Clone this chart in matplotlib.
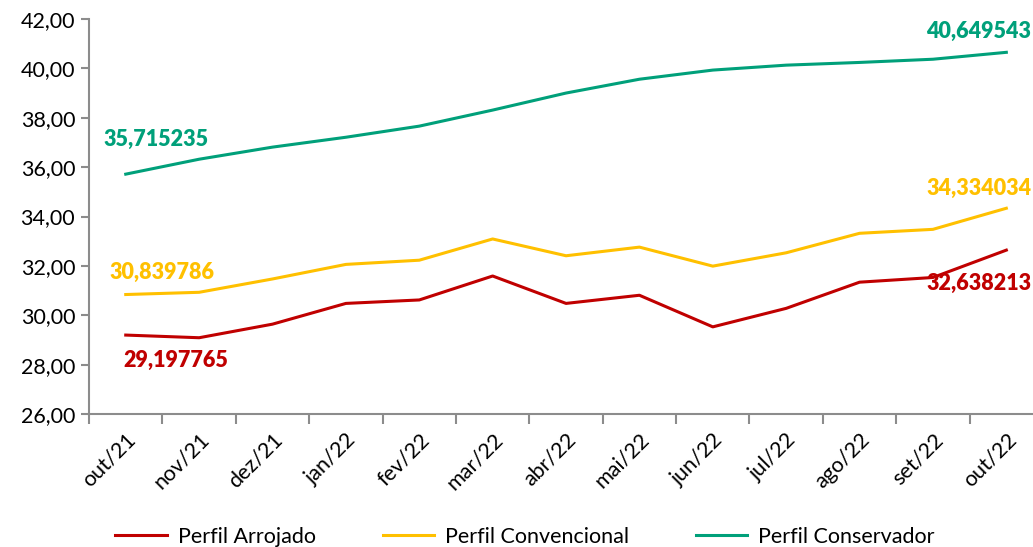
import numpy as np
import matplotlib
matplotlib.use("Agg")
import matplotlib.pyplot as plt
from matplotlib.ticker import FuncFormatter, FixedLocator

plt.rcParams['font.family'] = ['Lato', 'DejaVu Sans']

meses = ["out/21", "nov/21", "dez/21", "jan/22", "fev/22", "mar/22", "abr/22",
         "mai/22", "jun/22", "jul/22", "ago/22", "set/22", "out/22"]

arrojado = [29.197765, 29.09, 29.64, 30.48, 30.62, 31.59, 30.48,
            30.81, 29.53, 30.28, 31.34, 31.53, 32.638213]
convencional = [30.839786, 30.93, 31.47, 32.06, 32.23, 33.09, 32.41,
                32.76, 31.99, 32.53, 33.32, 33.48, 34.334034]
conservador = [35.715235, 36.32, 36.81, 37.21, 37.66, 38.31, 39.00,
               39.56, 39.93, 40.13, 40.24, 40.37, 40.649543]

vermelho = "#C00000"
amarelo = "#FFC000"
verde = "#00A07A"
cinza = "#8C8C8C"

fig = plt.figure(figsize=(10.33, 5.47), dpi=100)
ax = fig.add_axes([0.0862, 0.2431, 0.9235, 0.7222])

x = np.arange(len(meses))
ax.plot(x, arrojado, color=vermelho, lw=2.2, label="Perfil Arrojado")
ax.plot(x, convencional, color=amarelo, lw=2.2, label="Perfil Convencional")
ax.plot(x, conservador, color=verde, lw=2.2, label="Perfil Conservador")

ax.set_xlim(-0.5, len(meses) - 0.5)
ax.set_ylim(26, 42)
ax.set_yticks(np.arange(26, 43, 2))
ax.yaxis.set_major_formatter(FuncFormatter(lambda v, p: f"{v:.2f}".replace(".", ",")))

# rótulos no centro, marcas entre as categorias
ax.set_xticks(x)
ax.set_xticklabels(meses, rotation=45, ha="right", rotation_mode="anchor")
ax.xaxis.set_minor_locator(FixedLocator(np.arange(-0.5, len(meses), 1)))
ax.tick_params(axis="x", which="major", length=0, pad=11, labelsize=15.5)
ax.tick_params(axis="x", which="minor", length=7, width=1.5, color=cinza, direction="out")
ax.tick_params(axis="y", length=6, width=1.5, color=cinza, labelsize=15.5, pad=4)

for s in ["top", "right"]:
    ax.spines[s].set_visible(False)
for s in ["left", "bottom"]:
    ax.spines[s].set_color(cinza)
    ax.spines[s].set_linewidth(1.5)

# rótulos de dados (primeiro e último ponto)
fs = 15.5
ax.annotate(f"{conservador[0]:.6f}".replace(".", ","), (x[0], conservador[0]),
            xytext=(-16, 25), textcoords="offset points", ha="left", va="center",
            color=verde, fontsize=fs, fontweight="heavy")
ax.annotate(f"{conservador[-1]:.6f}".replace(".", ","), (x[-1], conservador[-1]),
            xytext=(18, 15), textcoords="offset points", ha="right", va="center",
            color=verde, fontsize=fs, fontweight="heavy")
ax.annotate(f"{convencional[0]:.6f}".replace(".", ","), (x[0], convencional[0]),
            xytext=(-12, 16), textcoords="offset points", ha="left", va="center",
            color=amarelo, fontsize=fs, fontweight="heavy")
ax.annotate(f"{convencional[-1]:.6f}".replace(".", ","), (x[-1], convencional[-1]),
            xytext=(18, 14), textcoords="offset points", ha="right", va="center",
            color=amarelo, fontsize=fs, fontweight="heavy")
ax.annotate(f"{arrojado[0]:.6f}".replace(".", ","), (x[0], arrojado[0]),
            xytext=(-2, -18), textcoords="offset points", ha="left", va="center",
            color=vermelho, fontsize=fs, fontweight="heavy")
ax.annotate(f"{arrojado[-1]:.6f}".replace(".", ","), (x[-1], arrojado[-1]),
            xytext=(18, -24), textcoords="offset points", ha="right", va="center",
            color=vermelho, fontsize=fs, fontweight="heavy")

leg = fig.legend(loc="lower left", bbox_to_anchor=(0.093, -0.035), ncol=3, frameon=False,
                 fontsize=15.5, handlelength=2.4, columnspacing=3.1, handletextpad=0.5)

fig.savefig("out.png", dpi=100)
